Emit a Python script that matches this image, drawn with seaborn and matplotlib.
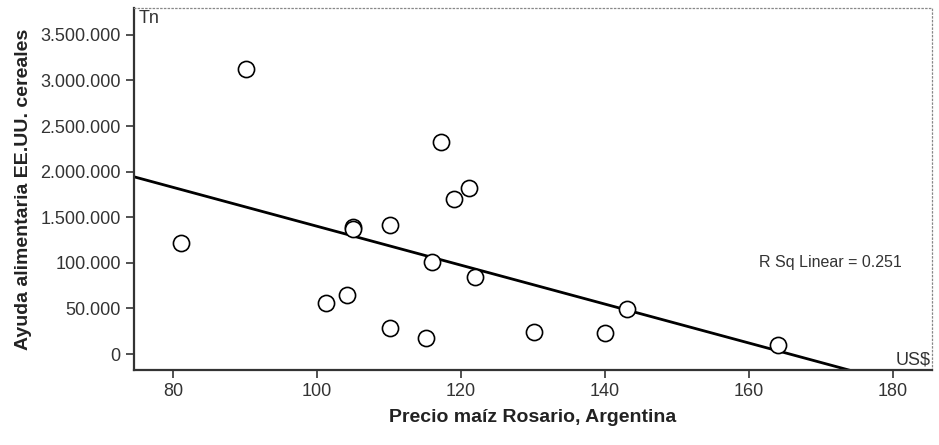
import matplotlib
matplotlib.use("Agg")
import matplotlib.pyplot as plt
import seaborn as sns
import numpy as np
import pandas as pd

# Data
precio = [81.1, 90.1, 101.2, 104.2, 105.0, 105.0, 110.2, 110.1, 115.1, 116.0,
          117.2, 119.0, 121.1, 122.0, 130.1, 140.0, 143.1, 164.0]
ayuda = [1217000, 3121000, 563000, 643000, 1396000, 1366000, 1414000, 285000, 175000, 1009000,
         2325000, 1696000, 1824000, 848000, 238000, 227000, 493000, 95000]
y_ticks = [0, 500000, 1000000, 1500000, 2000000, 2500000, 3000000, 3500000]
y_tick_labels = ["0", "50.000", "100.000", "1.500.000", "2.000.000", "2.500.000", "3.000.000", "3.500.000"]
x_ticks = [80, 100, 120, 140, 160, 180]
r2_text = "R Sq Linear = 0.251"

df = pd.DataFrame({"precio": precio, "ayuda": ayuda})

sns.set_theme(style="white")
plt.rcParams['font.family'] = ['Liberation Sans Narrow', 'Liberation Sans', 'DejaVu Sans']

fig = plt.figure(figsize=(9.39, 4.45), dpi=100)
ax = fig.add_axes([134/939, 1 - 370/445, (932-134)/939, (370-8)/445])
ax.set_xlim(74.6, 185.4)
ax.set_ylim(-175000, 3794000)

sns.regplot(data=df, x="precio", y="ayuda", ax=ax, ci=None, truncate=False,
            scatter_kws=dict(s=135, facecolors="white", edgecolors="black", linewidths=1.2,
                             alpha=1, zorder=3),
            line_kws=dict(color="black", linewidth=2.0, zorder=2))
ax.set_xlim(74.6, 185.4)
ax.set_ylim(-175000, 3794000)

ax.set_yticks(y_ticks)
ax.set_yticklabels(y_tick_labels)
ax.set_xticks(x_ticks)
ax.tick_params(axis="both", which="both", direction="out", length=6, width=1.2,
               color="#333333", labelcolor="#333333", labelsize=13, left=True, bottom=True)

for side in ["left", "bottom"]:
    ax.spines[side].set_color("#333333")
    ax.spines[side].set_linewidth(1.6)
for side in ["top", "right"]:
    ax.spines[side].set_color("#888888")
    ax.spines[side].set_linewidth(0.9)
    ax.spines[side].set_linestyle((0, (1, 2)))

ax.set_xlabel("Precio maíz Rosario, Argentina", fontsize=14, fontweight="bold", color="#222222", labelpad=6)
ax.set_ylabel("Ayuda alimentaria EE.UU. cereales", fontsize=14, fontweight="bold", color="#222222", labelpad=6)

ax.text(0.006, 0.995, "Tn", transform=ax.transAxes, ha="left", va="top", fontsize=13, color="#333333")
ax.text(0.998, 0.005, "US$", transform=ax.transAxes, ha="right", va="bottom", fontsize=13, color="#333333")
ax.text(171.25, 1009000, r2_text, ha="center", va="center", fontsize=11.5, color="#333333")

fig.savefig("out.png", dpi=100)
